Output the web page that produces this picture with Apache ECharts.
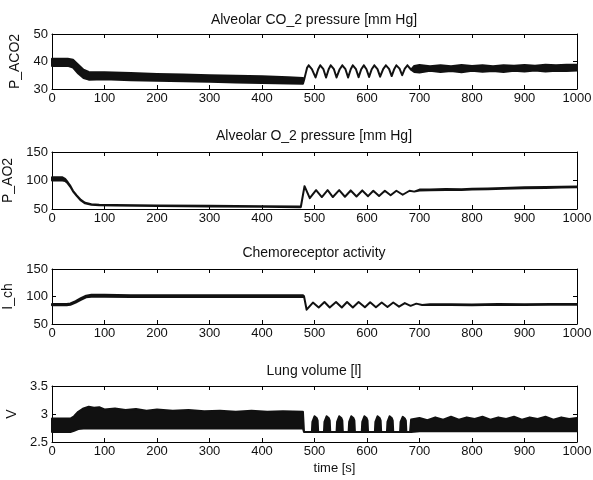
<!DOCTYPE html>
<html>
<head>
<meta charset="utf-8">
<script src="https://cdn.jsdelivr.net/npm/echarts@6/dist/echarts.min.js"></script>
<style>
  html, body { margin: 0; padding: 0; background: #fff; }
  #main { width: 593px; height: 480px; }
</style>
</head>
<body>
<div id="main"></div>
<script>
// panel texts and axis ranges [min, max, step]
var titles = ['Alveolar CO_2 pressure [mm Hg]', 'Alveolar O_2 pressure [mm Hg]', 'Chemoreceptor activity', 'Lung volume [l]'];
var yNames = ['P_ACO2', 'P_AO2', 'I_ch', 'V'];
var yRanges = [[30, 50, 10], [50, 150, 50], [50, 150, 50], [2.5, 3.5, 0.5]];
var timeRange = [0, 1000, 100];
var timeName = 'time [s]';

// each trace: lower / upper envelope (equal where the trace is a single line)
var co2Time = [0, 30, 40, 50, 60, 70, 100, 150, 200, 250, 300, 350, 400, 450, 478,
  480, 483, 486, 489, 495, 502, 507, 511, 517, 522, 527, 531, 537, 542, 548, 553, 559, 564, 569, 573,
  579, 584, 589, 594, 599, 604, 609, 614, 620, 625, 631, 636, 642, 647, 652, 656, 662, 667, 672, 677, 684,
  690, 700, 720, 740, 760, 780, 800, 820, 840, 860, 880, 900, 920, 940, 960, 980, 1000];
var co2Low = [38.4, 38.4, 37.8, 35.6, 34.0, 33.4, 33.5, 33.2, 33.0, 32.8, 32.6, 32.4, 32.2, 32.0, 31.9,
  33.2, 35.5, 37.8, 38.6, 37.2, 34.2, 37.2, 38.6, 37.2, 34.2, 37.2, 38.6, 37.2, 34.2, 37.2, 38.6, 37.2, 34.2, 37.2, 38.6,
  37.2, 34.3, 37.2, 38.6, 37.2, 34.4, 37.2, 38.6, 37.2, 34.5, 37.3, 38.6, 37.3, 34.7, 37.3, 38.6, 37.4, 35.0, 37.4, 38.6, 37.0,
  36.2, 36.0, 36.6, 36.2, 36.5, 36.1, 36.6, 36.3, 36.5, 36.2, 36.6, 36.4, 36.7, 36.4, 36.6, 36.5, 36.7];
var co2High = [41.0, 41.0, 40.6, 38.8, 37.0, 36.2, 36.1, 35.8, 35.5, 35.3, 35.0, 34.8, 34.6, 34.3, 34.0,
  33.2, 35.5, 37.8, 38.6, 37.2, 34.2, 37.2, 38.6, 37.2, 34.2, 37.2, 38.6, 37.2, 34.2, 37.2, 38.6, 37.2, 34.2, 37.2, 38.6,
  37.2, 34.3, 37.2, 38.6, 37.2, 34.4, 37.2, 38.6, 37.2, 34.5, 37.3, 38.6, 37.3, 34.7, 37.3, 38.6, 37.4, 35.0, 37.4, 38.6, 37.0,
  38.4, 38.7, 38.3, 38.6, 38.3, 38.7, 38.4, 38.6, 38.3, 38.6, 38.5, 38.7, 38.5, 38.8, 38.6, 38.8, 38.8];

var o2Time = [0, 20, 25, 30, 35, 40, 47, 55, 63, 75, 90, 120, 200, 300, 400, 470, 474,
  481, 491, 503, 514, 525, 535, 547, 558, 569, 580, 591, 602, 612, 623, 634, 645, 656, 668, 681, 690,
  700, 720, 750, 780, 800, 830, 860, 900, 940, 970, 1000];
var o2Low = [100, 100, 99, 95, 89, 81, 73, 65, 60, 57.5, 56.5, 56, 55.3, 54.5, 53.8, 53.2, 53.2,
  90, 69, 83, 71, 83, 71, 83, 71.5, 82.5, 72, 82.5, 72.5, 82, 73, 82, 74, 82, 75, 82, 80.5,
  82.5, 82.8, 83.5, 83.2, 84, 84.5, 85.5, 86.5, 87, 87.5, 88];
var o2High = [105.5, 105.5, 103, 97, 90.5, 82, 74, 66, 61, 58.5, 57.5, 57, 56.3, 55.5, 54.8, 54.2, 54.2,
  90, 69, 83, 71, 83, 71, 83, 71.5, 82.5, 72, 82.5, 72.5, 82, 73, 82, 74, 82, 75, 82, 80.5,
  84, 84.3, 85, 84.8, 85.5, 86, 87, 88, 88.5, 89, 89.5];

var ichTime = [0, 28, 35, 45, 55, 65, 75, 100, 150, 200, 300, 400, 478,
  480, 485, 497, 508, 519, 529, 541, 552, 562, 573, 584, 596, 606, 617, 628, 639, 650, 661, 672, 683, 694, 705,
  720, 760, 800, 850, 900, 950, 1000];
var ichLow = [84, 84, 85, 89, 94, 98.5, 99.5, 99.5, 99, 99, 99, 99, 99,
  100.5, 76, 89, 80, 90, 80, 90, 80, 90, 80, 90, 80.5, 89.5, 80.5, 89, 81, 89, 81.5, 88, 83, 87, 84.5,
  84.5, 84.5, 84, 85, 84.5, 85, 85];
var ichHigh = [86.5, 86.5, 87.5, 91.5, 97, 101.5, 103, 103, 102.5, 102.5, 102.5, 102.5, 102.5,
  100.5, 76, 89, 80, 90, 80, 90, 80, 90, 80, 90, 80.5, 89.5, 80.5, 89, 81, 89, 81.5, 88, 83, 87, 84.5,
  86, 86, 85.5, 86.5, 86, 86.5, 86.5];

var volTime = [0, 35, 42, 50, 60, 70, 80, 90, 100, 120, 140, 160, 180, 200, 230, 260, 290, 320, 350, 380, 410, 440, 478,
  480, 495, 496, 500, 504, 506, 507, 518, 519, 523, 527, 529, 530, 542, 543, 547, 551, 553, 554,
  565, 566, 570, 574, 576, 577, 590, 591, 595, 599, 601, 602, 615, 616, 620, 624, 626, 627,
  638, 639, 643, 647, 649, 650, 663, 664, 668, 672, 674, 675,
  682, 684, 700, 715, 730, 745, 760, 775, 790, 805, 820, 835, 850, 865, 880, 895, 910, 925, 940, 955, 970, 985, 1000];
var volLow = [2.68, 2.68, 2.70, 2.73, 2.74, 2.74, 2.74, 2.74, 2.74, 2.74, 2.74, 2.74, 2.74, 2.74, 2.74, 2.74, 2.74, 2.74, 2.74, 2.74, 2.74, 2.74, 2.74,
  2.68, 2.68, 2.68, 2.68, 2.68, 2.68, 2.68, 2.68, 2.68, 2.68, 2.68, 2.68, 2.68, 2.68, 2.68, 2.68, 2.68, 2.68, 2.68,
  2.68, 2.68, 2.68, 2.68, 2.68, 2.68, 2.68, 2.68, 2.68, 2.68, 2.68, 2.68, 2.68, 2.68, 2.68, 2.68, 2.68, 2.68,
  2.68, 2.68, 2.68, 2.68, 2.68, 2.68, 2.68, 2.68, 2.68, 2.68, 2.68, 2.68,
  2.68, 2.68, 2.69, 2.69, 2.69, 2.69, 2.69, 2.69, 2.69, 2.69, 2.69, 2.69, 2.69, 2.69, 2.69, 2.69, 2.69, 2.69, 2.69, 2.69, 2.69, 2.69, 2.69];
var volHigh = [2.92, 2.92, 2.96, 3.04, 3.10, 3.13, 3.11, 3.12, 3.08, 3.10, 3.07, 3.09, 3.06, 3.08, 3.06, 3.07, 3.05, 3.06, 3.04, 3.06, 3.04, 3.05, 3.04,
  2.68, 2.68, 2.86, 2.96, 2.93, 2.88, 2.68, 2.68, 2.86, 2.96, 2.93, 2.88, 2.68, 2.68, 2.86, 2.96, 2.93, 2.88, 2.68,
  2.68, 2.86, 2.96, 2.93, 2.88, 2.68, 2.68, 2.86, 2.96, 2.93, 2.88, 2.68, 2.68, 2.86, 2.96, 2.93, 2.88, 2.68,
  2.68, 2.86, 2.96, 2.93, 2.88, 2.68, 2.68, 2.86, 2.95, 2.92, 2.88, 2.68,
  2.68, 2.90, 2.93, 2.89, 2.94, 2.90, 2.95, 2.90, 2.94, 2.91, 2.95, 2.90, 2.94, 2.91, 2.95, 2.90, 2.94, 2.91, 2.95, 2.90, 2.94, 2.91, 2.93];

var traces = [
  { time: co2Time, low: co2Low, high: co2High },
  { time: o2Time, low: o2Low, high: o2High },
  { time: ichTime, low: ichLow, high: ichHigh },
  { time: volTime, low: volLow, high: volHigh }
];

var font = 'Liberation Sans, Arial, Helvetica, sans-serif';
var ink = '#111';
var gridTops = [34, 152, 269, 386];
var gridHeights = [55, 57, 55, 56];
var titleTops = [13, 129, 246, 364];

function bandSeries(k, tr) {
  return {
    type: 'custom',
    xAxisIndex: k * 2,
    yAxisIndex: k * 2,
    silent: true,
    data: tr.time.map(function (t, i) { return [t, tr.low[i], tr.high[i]]; }),
    encode: { x: 0, y: [1, 2] },
    renderItem: function (params, api) {
      if (params.dataIndex !== 0) return null;
      var pts = [];
      for (var i = 0; i < tr.time.length; i++) pts.push(api.coord([tr.time[i], tr.high[i]]));
      for (var j = tr.time.length - 1; j >= 0; j--) pts.push(api.coord([tr.time[j], tr.low[j]]));
      return {
        type: 'polygon',
        shape: { points: pts },
        style: { fill: ink, stroke: ink, lineWidth: 2, lineJoin: 'round' }
      };
    }
  };
}

function xAx(k, pos) {
  return {
    type: 'value', gridIndex: k, position: pos,
    min: timeRange[0], max: timeRange[1], interval: timeRange[2],
    axisLine: { show: true, onZero: false, lineStyle: { color: '#000', width: 1 } },
    axisTick: { show: true, inside: true, length: 4, lineStyle: { color: '#000' } },
    axisLabel: {
      show: pos === 'bottom', margin: 3, fontSize: 13, color: ink, fontFamily: font,
      formatter: function (v) { return String(v); }
    },
    splitLine: { show: false },
    name: (pos === 'bottom' && k === 3) ? timeName : '',
    nameLocation: 'middle', nameGap: 20,
    nameTextStyle: { fontSize: 13, color: ink, fontFamily: font, padding: [0, 0, 0, 40] }
  };
}

function yAx(k, pos) {
  var r = yRanges[k];
  return {
    type: 'value', gridIndex: k, position: pos,
    min: r[0], max: r[1], interval: r[2],
    axisLine: { show: true, onZero: false, lineStyle: { color: '#000', width: 1 } },
    axisTick: { show: true, inside: true, length: 4, lineStyle: { color: '#000' } },
    axisLabel: {
      show: pos === 'left', margin: 4, fontSize: 13, color: ink, fontFamily: font,
      formatter: function (v) { return String(v); }
    },
    splitLine: { show: false },
    name: pos === 'left' ? yNames[k] : '',
    nameLocation: 'middle', nameGap: 25, nameRotate: 90,
    nameTextStyle: { fontSize: 14, color: ink, fontFamily: font }
  };
}

var grid = [], xAxis = [], yAxis = [], title = [], series = [];
traces.forEach(function (tr, k) {
  grid.push({ left: 52, right: 16, top: gridTops[k], height: gridHeights[k], outerBoundsMode: 'none' });
  xAxis.push(xAx(k, 'bottom'), xAx(k, 'top'));
  yAxis.push(yAx(k, 'left'), yAx(k, 'right'));
  title.push({
    text: titles[k], left: 314, top: titleTops[k], textAlign: 'center', padding: 0,
    textStyle: { fontSize: 14, fontWeight: 'normal', color: ink, fontFamily: font }
  });
  series.push(bandSeries(k, tr));
});

var chart = echarts.init(document.getElementById('main'));
chart.setOption({
  animation: false,
  backgroundColor: '#fff',
  title: title,
  grid: grid,
  xAxis: xAxis,
  yAxis: yAxis,
  series: series
});

window.addEventListener('resize', function () {
  chart.resize();
});
</script>
</body>
</html>
